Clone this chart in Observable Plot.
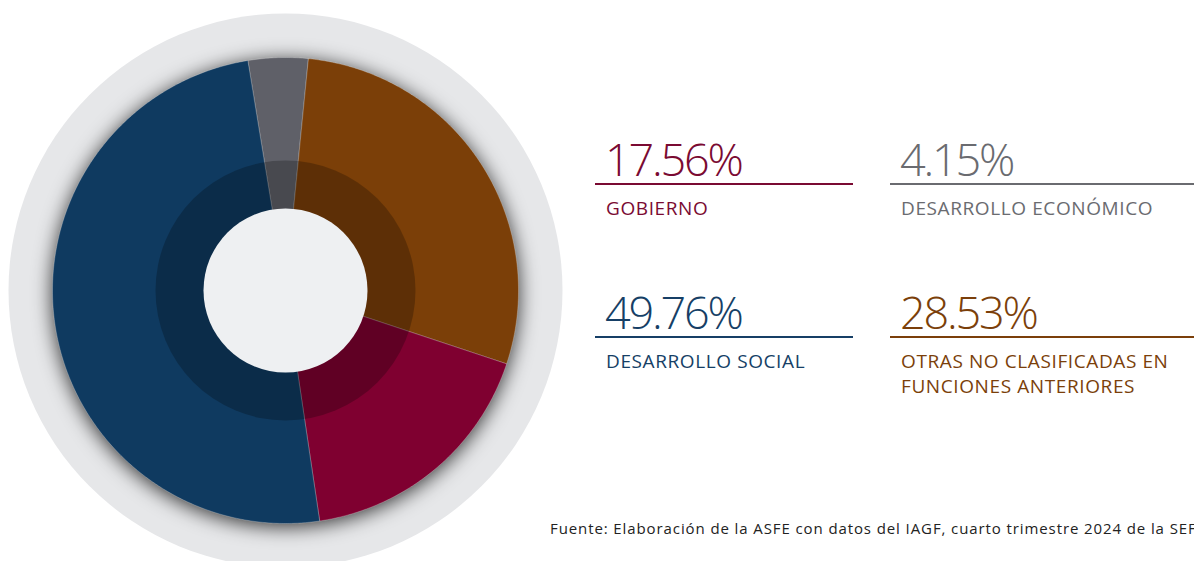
<!DOCTYPE html>
<html>
<head>
<meta charset="utf-8">
<script src="https://cdn.jsdelivr.net/npm/d3@7"></script>
<script src="https://cdn.jsdelivr.net/npm/@observablehq/plot@0.6"></script>
<style>
  html, body { margin: 0; padding: 0; background: #fff; }
  #wrap { position: relative; width: 1194px; height: 561px; overflow: hidden; font-family: "Open Sans", sans-serif; }
  #chart { position: absolute; left: 0; top: 0; }
  .blk { position: absolute; }
  .num { position: absolute; font-weight: 350; font-size: 45px; line-height: 1; white-space: nowrap; letter-spacing: -2.2px; }
  .rule { position: absolute; height: 2px; }
  .lab { position: absolute; font-size: 19px; line-height: 25px; white-space: nowrap; letter-spacing: 0.6px; }
  #src { position: absolute; left: 550px; top: 518px; font-size: 15px; letter-spacing: 0.9px; white-space: nowrap; color: #222; }
</style>
</head>
<body>
<div id="wrap">
  <div id="chart"></div>
  <div id="legend"></div>
  <div id="src">Fuente: Elaboración de la ASFE con datos del IAGF, cuarto trimestre 2024 de la SEFIPLAN.</div>
</div>
<script>
// ---- data ----
const categories = ["DESARROLLO ECONÓMICO", "OTRAS NO CLASIFICADAS EN FUNCIONES ANTERIORES", "GOBIERNO", "DESARROLLO SOCIAL"];
const values = [4.15, 28.53, 17.56, 49.76];
const colors = ["#5f6068", "#7b3f08", "#7f0030", "#0f3a60"];
const labelLines = [["DESARROLLO ECONÓMICO"], ["OTRAS NO CLASIFICADAS EN", "FUNCIONES ANTERIORES"], ["GOBIERNO"], ["DESARROLLO SOCIAL"]];
const textColors = ["#6a6b70", "#7b3f0a", "#7a0a32", "#163f66"];

// ---- geometry (pixel units through scales) ----
const W = 570, H = 561, CX = 285, CY = 290;
const R_BG = 277, R_PIE = 233, R_DARK = 130, R_HOLE = 82;
const startAngle = -9.3 * Math.PI / 180;

const pie = d3.pie().sort(null).value(d => d.value)
  .startAngle(startAngle).endAngle(startAngle + 2 * Math.PI);
const arcs = pie(categories.map((c, i) => ({name: c, value: values[i]})));

const pts = [];
for (const a of arcs) {
  const n = Math.max(8, Math.ceil((a.endAngle - a.startAngle) / (Math.PI / 360)));
  pts.push({name: a.data.name, x: 0, y: 0});
  for (let k = 0; k <= n; k++) {
    const t = a.startAngle + (a.endAngle - a.startAngle) * k / n;
    pts.push({name: a.data.name, x: R_PIE * Math.sin(t), y: R_PIE * Math.cos(t)});
  }
  pts.push({name: a.data.name, x: 0, y: 0});
}
const center = [{x: 0, y: 0}];

const svg = Plot.plot({
  width: W, height: H,
  margin: 0,
  x: {domain: [-CX, W - CX], range: [0, W], axis: null},
  y: {domain: [-(H - CY), CY], range: [H, 0], axis: null},
  color: {domain: categories, range: colors},
  marks: [
    Plot.dot(center, {x: "x", y: "y", r: R_BG, fill: "#e6e7e9", stroke: "none"}),
    Plot.dot([{x: 0, y: -3}], {x: "x", y: "y", r: R_PIE, fill: "#000", fillOpacity: 0.8, stroke: "none"}),
    Plot.line(pts, {x: "x", y: "y", z: "name", fill: "name", stroke: "#ffffff", strokeOpacity: 0.3, strokeWidth: 0.8, curve: "linear"}),
    Plot.dot(center, {x: "x", y: "y", r: R_DARK, fill: "#000", fillOpacity: 0.24, stroke: "none"}),
    Plot.dot(center, {x: "x", y: "y", r: R_HOLE, fill: "#eef0f2", stroke: "none"})
  ]
});
// blur filter for the shadow mark (second mark group)
const ns = "http://www.w3.org/2000/svg";
const defs = document.createElementNS(ns, "defs");
const filt = document.createElementNS(ns, "filter");
filt.setAttribute("id", "pieBlur");
filt.setAttribute("x", "-30%"); filt.setAttribute("y", "-30%");
filt.setAttribute("width", "160%"); filt.setAttribute("height", "160%");
const fe = document.createElementNS(ns, "feGaussianBlur");
fe.setAttribute("stdDeviation", "10");
filt.appendChild(fe); defs.appendChild(filt);
svg.insertBefore(defs, svg.firstChild);
const groups = Array.from(svg.children).filter(n => n.tagName.toLowerCase() === "g");
groups[1].setAttribute("filter", "url(#pieBlur)");
document.getElementById("chart").appendChild(svg);

// ---- legend blocks ----
const pos = [
  {left: 890, ruleW: 320, top: 0},   // económico
  {left: 890, ruleW: 320, top: 153}, // otras
  {left: 595, ruleW: 258, top: 0},   // gobierno
  {left: 595, ruleW: 258, top: 153}  // social
];
const legend = d3.select("#legend");
categories.forEach((c, i) => {
  const p = pos[i];
  const b = legend.append("div").attr("class", "blk").style("left", p.left + "px").style("top", p.top + "px");
  b.append("div").attr("class", "num").style("left", "10px").style("top", "136px").style("color", textColors[i])
    .text(values[i].toFixed(2) + "%");
  b.append("div").attr("class", "rule").style("left", "0px").style("top", "183px").style("width", p.ruleW + "px").style("background", textColors[i]);
  b.append("div").attr("class", "lab").style("left", "11px").style("top", "196px").style("color", textColors[i])
    .html(labelLines[i].join("<br>"));
});
</script>
</body>
</html>
